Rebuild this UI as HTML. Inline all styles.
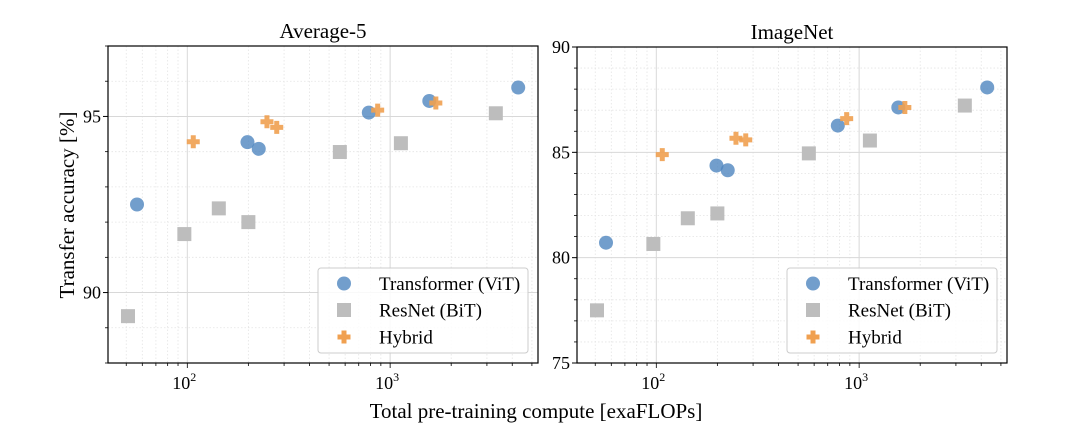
<!DOCTYPE html>
<html><head><meta charset="utf-8"><style>
body{margin:0;background:#fff}
svg{font-family:"Liberation Serif",serif;display:block}
</style></head><body>
<svg id="c" width="1068" height="430"></svg>
<script>
const vitX=[56.5,198,225,785,1560,4280];
const vitAvg=[92.5,94.27,94.08,95.11,95.44,95.82];
const vitIN=[80.71,84.37,84.15,86.27,87.13,88.08];
const bitX=[51,96.7,143,200,565,1130,3320];
const bitAvg=[89.33,91.66,92.39,92.0,93.99,94.24,95.09];
const bitIN=[77.5,80.65,81.87,82.1,84.95,85.56,87.22];
const hybX=[107,247,276,868,1680];
const hybAvg=[94.28,94.85,94.69,95.18,95.38];
const hybIN=[84.89,85.67,85.59,86.6,87.13];
const panels=[
 {name:"average-5",title:"Average-5",x0:108,x1:538,y0:46,y1:363,ymin:88,ymax:97,yticks:[90,95],vit:vitAvg,bit:bitAvg,hyb:hybAvg},
 {name:"imagenet",title:"ImageNet",x0:577,x1:1007,y0:47,y1:363,ymin:75,ymax:90,yticks:[75,80,85,90],vit:vitIN,bit:bitIN,hyb:hybIN}
];
const xTicks=[100,1000];
const xLabels=["2","3"];
const NS="http://www.w3.org/2000/svg";
const svg=document.getElementById('c');
function mk(t,a,p){const e=document.createElementNS(NS,t);for(const k in a)e.setAttribute(k,a[k]);(p||svg).appendChild(e);return e;}
const LMIN=1.609,LMAX=3.729;
panels.forEach(P=>{
 const g=mk('g',{});
 
 
 const sx=v=>P.x0+(Math.log10(v)-LMIN)/(LMAX-LMIN)*(P.x1-P.x0);
 const sy=v=>P.y1-(v-P.ymin)/(P.ymax-P.ymin)*(P.y1-P.y0);
 for(let d=1;d<=4;d++)for(let m=2;m<=9;m++){const v=m*Math.pow(10,d);const x=sx(v);if(x>P.x0&&x<P.x1)mk('line',{x1:x,x2:x,y1:P.y0,y2:P.y1,stroke:'#e4e4e4','stroke-dasharray':'1.5,2','stroke-width':0.8},g);}
 for(let v=Math.ceil(P.ymin);v<=P.ymax;v++){if(v%5)mk('line',{x1:P.x0,x2:P.x1,y1:sy(v),y2:sy(v),stroke:'#e4e4e4','stroke-dasharray':'1.5,2','stroke-width':0.8},g);}
 xTicks.forEach(v=>mk('line',{x1:sx(v),x2:sx(v),y1:P.y0,y2:P.y1,stroke:'#d8d8d8','stroke-width':1},g));
 P.yticks.forEach(v=>mk('line',{x1:P.x0,x2:P.x1,y1:sy(v),y2:sy(v),stroke:'#d8d8d8','stroke-width':1},g));
 for(let d=1;d<=4;d++)for(let m=1;m<=9;m++){const v=m*Math.pow(10,d);const x=sx(v);if(x>=P.x0&&x<=P.x1)mk('line',{x1:x,x2:x,y1:P.y1,y2:P.y1+(m==1?5:3),stroke:'#000','stroke-width':0.8},g);}
 xTicks.forEach((v,i)=>{const t=mk('text',{x:sx(v)-3,y:P.y1+26,'text-anchor':'middle','font-size':18},g);t.textContent='10';const s=mk('tspan',{dy:-8,'font-size':12},t);s.textContent=xLabels[i];});
 P.yticks.forEach(v=>{mk('line',{x1:P.x0-5,x2:P.x0,y1:sy(v),y2:sy(v),stroke:'#000'},g);const t=mk('text',{x:P.x0-7,y:sy(v)+6,'text-anchor':'end','font-size':18},g);t.textContent=v;});
 for(let v=Math.ceil(P.ymin);v<=P.ymax;v++)if(v%5)mk('line',{x1:P.x0-3,x2:P.x0,y1:sy(v),y2:sy(v),stroke:'#000','stroke-width':0.8},g);
 const tt=mk('text',{x:(P.x0+P.x1)/2,y:P.y0-8,'text-anchor':'middle','font-size':21},g);tt.textContent=P.title;
 bitX.forEach((x,i)=>{const r=mk('rect',{x:sx(x)-7,y:sy(P.bit[i])-7,width:14,height:14,fill:'#bdbdbd'},g);});
 vitX.forEach((x,i)=>{const c=mk('circle',{cx:sx(x),cy:sy(P.vit[i]),r:7,fill:'#4f86bf','fill-opacity':0.8},g);});
 hybX.forEach((x,i)=>{const X=sx(x),Y=sy(P.hyb[i]);const p=mk('path',{d:`M${X-2.5},${Y-6.5}h5v4h4v5h-4v4h-5v-4h-4v-5h4z`,fill:'#f0a050','fill-opacity':0.9},g);});
 mk('rect',{x:P.x0,y:P.y0,width:P.x1-P.x0,height:P.y1-P.y0,fill:'none',stroke:'#000','stroke-width':1.2},g);
 const L=mk('g',{},g);
 
 
 const lx=P.x1-220,ly=268;
 mk('rect',{x:lx,y:ly,width:210,height:85,rx:3,fill:'#fff','fill-opacity':0.85,stroke:'#ccc'},L);
 const mx=lx+26,tx=lx+61;
 mk('circle',{cx:mx,cy:ly+15.5,r:7,fill:'#4f86bf','fill-opacity':0.8},L);
 mk('rect',{x:mx-7,y:ly+35,width:14,height:14,fill:'#bdbdbd'},L);
 mk('path',{d:`M${mx-2.5},${ly+62.5}h5v4h4v5h-4v4h-5v-4h-4v-5h4z`,fill:'#f0a050'},L);
 ['Transformer (ViT)','ResNet (BiT)','Hybrid'].forEach((s,i)=>{const t=mk('text',{x:tx,y:ly+22+i*26.7,'font-size':19},L);t.textContent=s;});
});
const yl=mk('text',{x:0,y:0,transform:'translate(74,205) rotate(-90)','text-anchor':'middle','font-size':21});
yl.textContent='Transfer accuracy [%]';

const xl=mk('text',{x:536,y:418,'text-anchor':'middle','font-size':21});
xl.textContent='Total pre-training compute [exaFLOPs]';

</script>
</body></html>
